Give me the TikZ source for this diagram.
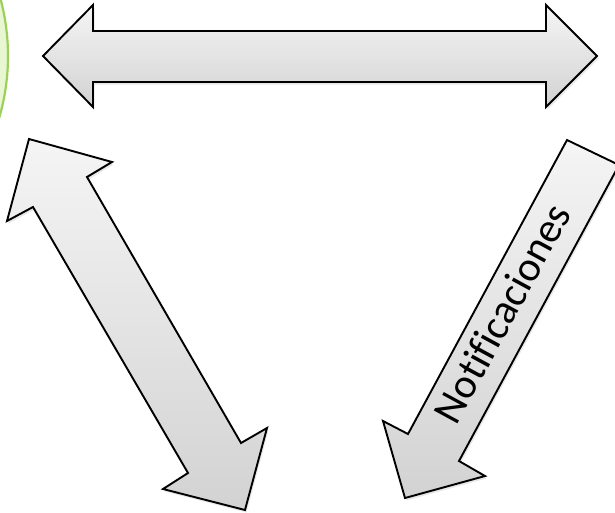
\documentclass[tikz,border=0pt]{standalone}
\usepackage{fontspec}
\setmainfont{Carlito}[Ligatures=NoCommon]
\usetikzlibrary{shadows}
\definecolor{greenfill}{HTML}{E8F7D2}
\definecolor{greenline}{HTML}{9CCF5C}
\tikzset{
  bigarrow/.style={draw=black, line width=1.9pt, line join=miter,
    top color=gray!8, bottom color=gray!35,
    drop shadow={opacity=0.18, shadow xshift=1.5pt, shadow yshift=-2.5pt}},
  label/.style={font=\fontsize{42}{48}\selectfont, text=black, inner sep=0pt}
}
\begin{document}
\begin{tikzpicture}[x=1pt,y=-1pt]
\useasboundingbox (0,0) rectangle (615,512);
\clip (0,0) rectangle (615,512);
% green circle (partially visible)
\draw[greenline, fill=greenfill, line width=2.2pt] (-212,56) circle (220);
% top double arrow
\path[bigarrow] (43,56) -- (93,5) -- (93,31) -- (546,31) -- (546,5) -- (597,56)
  -- (546,107) -- (546,82) -- (93,82) -- (93,107) -- cycle;
% left diagonal double arrow
\path[bigarrow] (29,139) -- (112,162) -- (87,177) -- (241,443) -- (267,428)
  -- (245,510) -- (163,489) -- (188,473) -- (33,207) -- (7,221) -- cycle;
% right arrow (Notificaciones)
\path[bigarrow] (567,140) -- (619,165) -- (459,461) -- (485,476) -- (405,498)
  -- (383,421) -- (408,434) -- cycle;
\node[label, rotate=61.5] (notif) at (502,313) {Notificaciones};
\end{tikzpicture}
\end{document}
